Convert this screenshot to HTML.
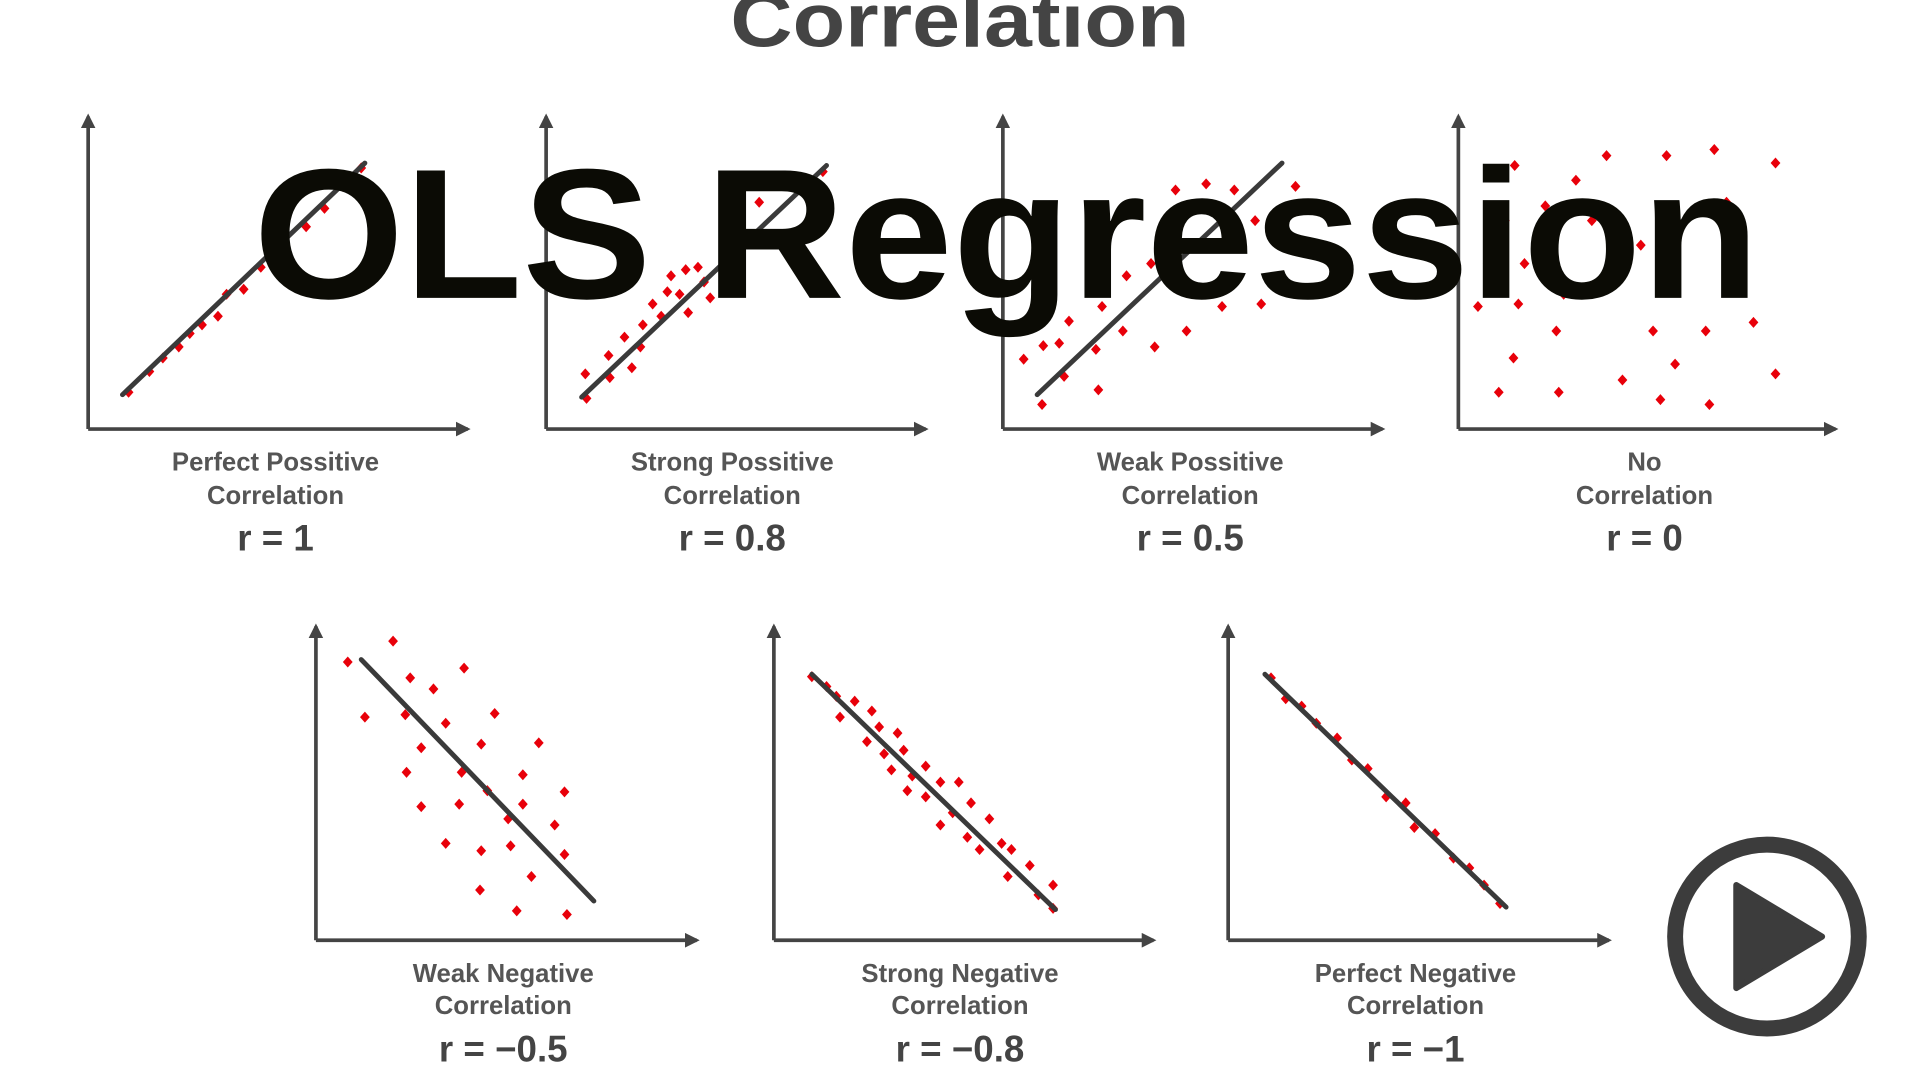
<!DOCTYPE html>
<html><head><meta charset="utf-8"><style>
html,body{margin:0;padding:0;background:#fff;width:1920px;height:1080px;overflow:hidden}
svg{display:block}
.lab{font-family:"Liberation Sans",sans-serif;font-weight:bold;font-size:21px;fill:#555;text-anchor:middle}
.r{font-family:"Liberation Sans",sans-serif;font-weight:bold;font-size:30px;fill:#444;text-anchor:middle}
</style></head><body>
<svg width="1920" height="1080" viewBox="0 0 1568 881" preserveAspectRatio="none" xmlns="http://www.w3.org/2000/svg">
<defs>
<marker id="ah" viewBox="0 0 10 10" refX="8" refY="5" markerWidth="4" markerHeight="4" orient="auto"><path d="M0,0L10,5L0,10z" fill="#444"/></marker>
<path id="d" d="M0,-4.5L4,0L0,4.5L-4,0z" fill="#e8000a"/>
</defs>
<text x="784" y="38" font-family="Liberation Sans,sans-serif" font-weight="bold" font-size="62" fill="#444" text-anchor="middle" textLength="375" lengthAdjust="spacingAndGlyphs">Correlation</text>
<g stroke="#444" stroke-width="3" fill="none" marker-end="url(#ah)">
<path d="M72,350V95"/><path d="M72,350H382"/>
<path d="M446,350V95"/><path d="M446,350H756"/>
<path d="M819,350V95"/><path d="M819,350H1129"/>
<path d="M1191,350V95"/><path d="M1191,350H1499"/>
<path d="M258,767V511"/><path d="M258,767H569"/>
<path d="M632,767V511"/><path d="M632,767H942"/>
<path d="M1003,767V511"/><path d="M1003,767H1314"/>
</g>
<g id="pts">
<use href="#d" x="105" y="320"/><use href="#d" x="122" y="303"/><use href="#d" x="133" y="292"/><use href="#d" x="146" y="283"/><use href="#d" x="155" y="272"/><use href="#d" x="165" y="265"/><use href="#d" x="178" y="258"/><use href="#d" x="185" y="240"/><use href="#d" x="199" y="236"/><use href="#d" x="213" y="218"/><use href="#d" x="230" y="205"/><use href="#d" x="250" y="185"/><use href="#d" x="265" y="170"/><use href="#d" x="280" y="152"/><use href="#d" x="295" y="137"/>
<use href="#d" x="479" y="325"/><use href="#d" x="478" y="305"/><use href="#d" x="498" y="308"/><use href="#d" x="497" y="290"/><use href="#d" x="516" y="300"/><use href="#d" x="510" y="275"/><use href="#d" x="523" y="283"/><use href="#d" x="525" y="265"/><use href="#d" x="540" y="258"/><use href="#d" x="533" y="248"/><use href="#d" x="545" y="238"/><use href="#d" x="548" y="225"/><use href="#d" x="555" y="240"/><use href="#d" x="562" y="255"/><use href="#d" x="560" y="220"/><use href="#d" x="570" y="218"/><use href="#d" x="580" y="243"/><use href="#d" x="575" y="230"/><use href="#d" x="620" y="165"/><use href="#d" x="672" y="140"/><use href="#d" x="655" y="150"/>
<use href="#d" x="851" y="330"/><use href="#d" x="836" y="293"/><use href="#d" x="852" y="282"/><use href="#d" x="865" y="280"/><use href="#d" x="873" y="262"/><use href="#d" x="869" y="307"/><use href="#d" x="897" y="318"/><use href="#d" x="895" y="285"/><use href="#d" x="900" y="250"/><use href="#d" x="917" y="270"/><use href="#d" x="920" y="225"/><use href="#d" x="943" y="283"/><use href="#d" x="940" y="215"/><use href="#d" x="969" y="270"/><use href="#d" x="960" y="155"/><use href="#d" x="985" y="150"/><use href="#d" x="1008" y="155"/><use href="#d" x="1058" y="152"/><use href="#d" x="1025" y="180"/><use href="#d" x="998" y="250"/><use href="#d" x="1030" y="248"/><use href="#d" x="1010" y="200"/>
<use href="#d" x="1237" y="135"/><use href="#d" x="1312" y="127"/><use href="#d" x="1361" y="127"/><use href="#d" x="1400" y="122"/><use href="#d" x="1450" y="133"/><use href="#d" x="1287" y="147"/><use href="#d" x="1262" y="168"/><use href="#d" x="1229" y="180"/><use href="#d" x="1410" y="165"/><use href="#d" x="1215" y="215"/><use href="#d" x="1245" y="215"/><use href="#d" x="1277" y="240"/><use href="#d" x="1240" y="248"/><use href="#d" x="1207" y="250"/><use href="#d" x="1271" y="270"/><use href="#d" x="1350" y="270"/><use href="#d" x="1393" y="270"/><use href="#d" x="1432" y="263"/><use href="#d" x="1236" y="292"/><use href="#d" x="1368" y="297"/><use href="#d" x="1325" y="310"/><use href="#d" x="1450" y="305"/><use href="#d" x="1224" y="320"/><use href="#d" x="1273" y="320"/><use href="#d" x="1356" y="326"/><use href="#d" x="1396" y="330"/><use href="#d" x="1300" y="180"/><use href="#d" x="1340" y="200"/>
<use href="#d" x="284" y="540"/><use href="#d" x="321" y="523"/><use href="#d" x="335" y="553"/><use href="#d" x="379" y="545"/><use href="#d" x="354" y="562"/><use href="#d" x="298" y="585"/><use href="#d" x="331" y="583"/><use href="#d" x="404" y="582"/><use href="#d" x="364" y="590"/><use href="#d" x="344" y="610"/><use href="#d" x="393" y="607"/><use href="#d" x="440" y="606"/><use href="#d" x="332" y="630"/><use href="#d" x="377" y="630"/><use href="#d" x="427" y="632"/><use href="#d" x="398" y="645"/><use href="#d" x="461" y="646"/><use href="#d" x="344" y="658"/><use href="#d" x="375" y="656"/><use href="#d" x="427" y="656"/><use href="#d" x="415" y="668"/><use href="#d" x="453" y="673"/><use href="#d" x="364" y="688"/><use href="#d" x="393" y="694"/><use href="#d" x="417" y="690"/><use href="#d" x="461" y="697"/><use href="#d" x="434" y="715"/><use href="#d" x="392" y="726"/><use href="#d" x="422" y="743"/><use href="#d" x="463" y="746"/>
<use href="#d" x="663" y="552"/><use href="#d" x="675" y="560"/><use href="#d" x="683" y="568"/><use href="#d" x="698" y="572"/><use href="#d" x="712" y="580"/><use href="#d" x="686" y="585"/><use href="#d" x="718" y="593"/><use href="#d" x="733" y="598"/><use href="#d" x="708" y="605"/><use href="#d" x="722" y="615"/><use href="#d" x="738" y="612"/><use href="#d" x="756" y="625"/><use href="#d" x="728" y="628"/><use href="#d" x="745" y="633"/><use href="#d" x="768" y="638"/><use href="#d" x="783" y="638"/><use href="#d" x="741" y="645"/><use href="#d" x="756" y="650"/><use href="#d" x="793" y="655"/><use href="#d" x="778" y="663"/><use href="#d" x="808" y="668"/><use href="#d" x="768" y="673"/><use href="#d" x="790" y="683"/><use href="#d" x="818" y="688"/><use href="#d" x="800" y="693"/><use href="#d" x="826" y="693"/><use href="#d" x="841" y="706"/><use href="#d" x="823" y="715"/><use href="#d" x="860" y="722"/><use href="#d" x="848" y="730"/><use href="#d" x="860" y="741"/>
<use href="#d" x="1038" y="553"/><use href="#d" x="1050" y="570"/><use href="#d" x="1063" y="576"/><use href="#d" x="1075" y="590"/><use href="#d" x="1092" y="602"/><use href="#d" x="1104" y="620"/><use href="#d" x="1117" y="627"/><use href="#d" x="1132" y="650"/><use href="#d" x="1148" y="655"/><use href="#d" x="1155" y="675"/><use href="#d" x="1172" y="680"/><use href="#d" x="1187" y="700"/><use href="#d" x="1200" y="708"/><use href="#d" x="1212" y="722"/><use href="#d" x="1225" y="737"/>
</g>
<g stroke="#3a3a3a" stroke-width="4" stroke-linecap="round">
<path d="M100,322L298,133"/><path d="M475,324L675,135"/><path d="M847,322L1047,133"/>
<path d="M295,538L485,735"/><path d="M663,550L862,742"/><path d="M1033,550L1230,740"/>
</g>
<text class="lab" x="225" y="384">Perfect Possitive</text><text class="lab" x="225" y="411">Correlation</text><text class="r" x="225" y="449">r = 1</text>
<text class="lab" x="598" y="384">Strong Possitive</text><text class="lab" x="598" y="411">Correlation</text><text class="r" x="598" y="449">r = 0.8</text>
<text class="lab" x="972" y="384">Weak Possitive</text><text class="lab" x="972" y="411">Correlation</text><text class="r" x="972" y="449">r = 0.5</text>
<text class="lab" x="1343" y="384">No</text><text class="lab" x="1343" y="411">Correlation</text><text class="r" x="1343" y="449">r = 0</text>
<text class="lab" x="411" y="801">Weak Negative</text><text class="lab" x="411" y="827">Correlation</text><text class="r" x="411" y="866">r = −0.5</text>
<text class="lab" x="784" y="801">Strong Negative</text><text class="lab" x="784" y="827">Correlation</text><text class="r" x="784" y="866">r = −0.8</text>
<text class="lab" x="1156" y="801">Perfect Negative</text><text class="lab" x="1156" y="827">Correlation</text><text class="r" x="1156" y="866">r = −1</text>
<text x="207" y="243" font-family="Liberation Sans,sans-serif" font-weight="bold" font-size="151" fill="#0b0b05" textLength="1230" lengthAdjust="spacingAndGlyphs">OLS Regression</text>
<circle cx="1443" cy="764" r="75" fill="none" stroke="#3c3c3c" stroke-width="13"/>
<path d="M1418,722L1488,764L1418,806z" fill="#3c3c3c" stroke="#3c3c3c" stroke-width="5" stroke-linejoin="round"/>
</svg>
</body></html>
